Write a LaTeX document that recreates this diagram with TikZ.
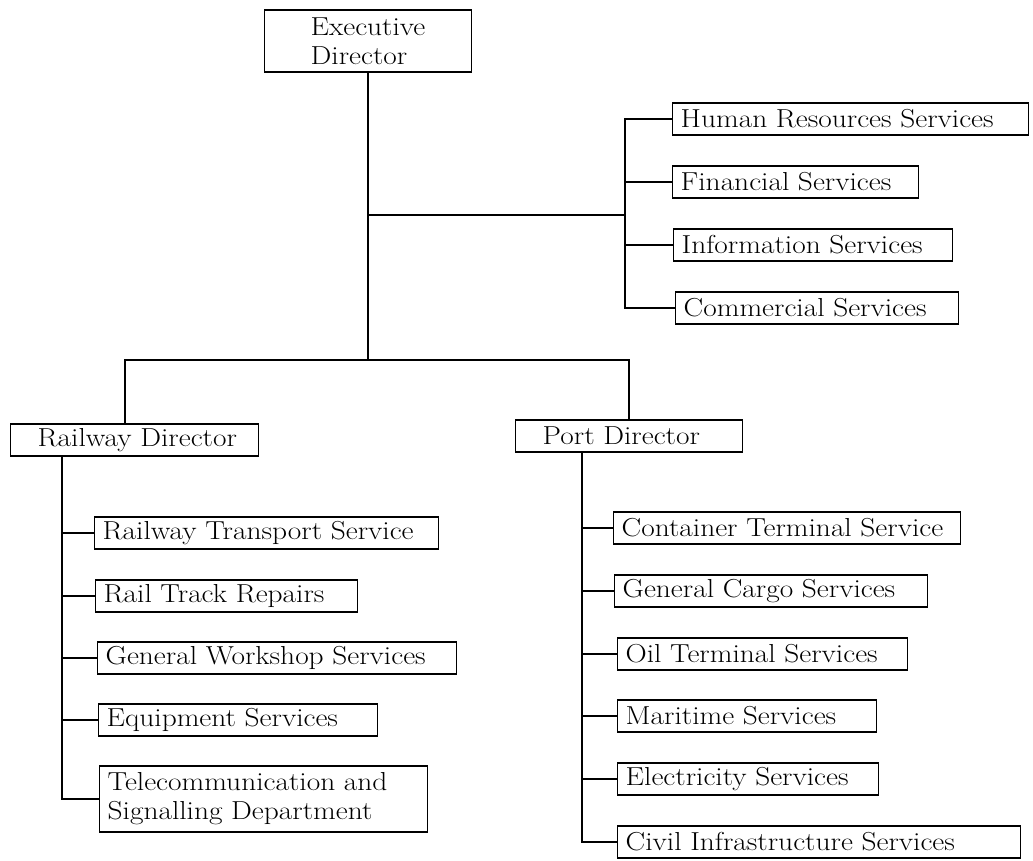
\documentclass[tikz,border=0pt]{standalone}
\usepackage{fontspec}
\setmainfont[FakeStretch=1.13]{Latin Modern Roman}
\usetikzlibrary{positioning,calc}
\tikzset{unit/.style={draw, line width=1.4pt, anchor=west, align=left, inner xsep=8pt, inner ysep=2pt, minimum height=32pt, text width=#1, font=\fontsize{26}{29}\selectfont}}
\tikzstyle{link} = [line width=1.8pt]
\begin{document}
\begin{tikzpicture}[x=1pt,y=-1pt]
	\useasboundingbox (0,0) rectangle (1033,860);
	% top
	\node[draw, line width=1.4pt, align=left, minimum width=207pt, minimum height=62pt, font=\fontsize{26}{29}\selectfont] (ed) at (368,41) {Executive\\Director};
	
	% staff services
	\node[unit=340pt] (hr) at (672,119) {Human Resources Services};
	\node[unit=230pt] (fin) at (672,182) {Financial Services};
	\node[unit=263pt] (inf) at (673,245) {Information Services};
	\node[unit=267pt] (com) at (675,308) {Commercial Services};
	
	% directors
	\node[unit=232pt] (rd) at (10,440) {\hspace*{19pt}Railway Director};
	\node[unit=211pt] (pd) at (515,436) {\hspace*{19pt}Port Director};
	
	% railway side
	\node[unit=328pt] (rts) at (94,533) {Railway Transport Service};
	\node[unit=246pt] (rtr) at (95,596) {Rail Track Repairs};
	\node[unit=343pt] (gws) at (97,658) {General Workshop Services};
	\node[unit=263pt] (eqs) at (98,720) {Equipment Services};
	\node[unit=312pt, minimum height=66pt] (tel) at (99,799) {Telecommunication and\\Signalling Department};
	
	% port side
	\node[unit=331pt] (cts) at (613,528) {Container Terminal Service};
	\node[unit=297pt] (gcs) at (614,591) {General Cargo Services};
	\node[unit=274pt] (ots) at (617,654) {Oil Terminal Services};
	\node[unit=243pt] (mas) at (617,716) {Maritime Services};
	\node[unit=245pt] (els) at (617,779) {Electricity Services};
	\node[unit=387pt] (cis) at (617,842) {Civil Infrastructure Services};
	
	% links
	\coordinate (staff) at (625,215);
	\coordinate (busL) at (125,360);
	\coordinate (rtrunk) at (62,0);
	\coordinate (ptrunk) at (582,0);
	
	\draw[link] (ed.south) -- (ed.south |- busL);
	\draw[link] (ed.south |- staff) -- (staff);
	\draw[link] (hr.west) -| (staff |- com.west) -- (com.west);
	\foreach \n in {fin,inf}
		\draw[link] (\n.west) -- (\n.west -| staff);
	
	\draw[link] (busL |- rd.north) -- (busL) -- (busL -| pd.north) -- (pd.north);
	
	\draw[link] (rd.south -| rtrunk) |- (tel.west);
	\foreach \n in {rts,rtr,gws,eqs}
		\draw[link] (\n.west) -- (\n.west -| rtrunk);
	
	\draw[link] (pd.south -| ptrunk) |- (cis.west);
	\foreach \n in {cts,gcs,ots,mas,els}
		\draw[link] (\n.west) -- (\n.west -| ptrunk);
\end{tikzpicture}
\end{document}
